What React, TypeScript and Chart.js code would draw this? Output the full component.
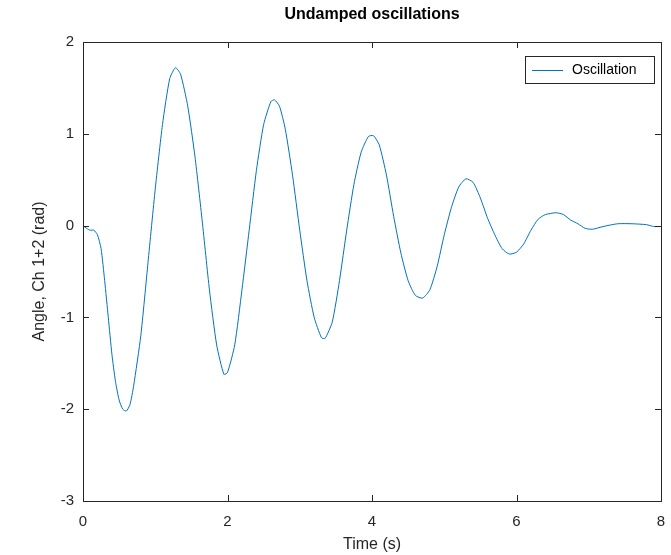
import { useRef, useEffect } from "react"
import { Chart, registerables } from "chart.js"

Chart.register(...registerables)

const times = [0, 0.05, 0.1, 0.15, 0.2, 0.25, 0.3, 0.35, 0.4, 0.45, 0.5, 0.55, 0.6, 0.65, 0.7, 0.8, 0.9, 1.0, 1.1, 1.2, 1.28, 1.35, 1.45, 1.55, 1.65, 1.75, 1.85, 1.95, 2.0, 2.1, 2.2, 2.3, 2.4, 2.5, 2.6, 2.65, 2.72, 2.8, 2.9, 3.0, 3.1, 3.2, 3.3, 3.35, 3.45, 3.55, 3.65, 3.75, 3.85, 3.95, 4.02, 4.1, 4.2, 4.3, 4.4, 4.5, 4.6, 4.7, 4.8, 4.9, 5.0, 5.1, 5.2, 5.3, 5.4, 5.5, 5.6, 5.7, 5.8, 5.9, 6.0, 6.1, 6.2, 6.3, 6.4, 6.55, 6.65, 6.75, 6.85, 6.95, 7.05, 7.2, 7.4, 7.6, 7.8, 7.9, 8.0]
const angle = [0, -0.03, -0.05, -0.05, -0.1, -0.25, -0.6, -1.0, -1.4, -1.7, -1.9, -2.0, -2.02, -1.95, -1.75, -1.2, -0.4, 0.4, 1.1, 1.6, 1.72, 1.65, 1.3, 0.75, 0.05, -0.7, -1.3, -1.62, -1.6, -1.3, -0.7, -0.05, 0.6, 1.1, 1.35, 1.37, 1.3, 1.05, 0.55, -0.05, -0.6, -1.0, -1.22, -1.23, -1.05, -0.6, -0.05, 0.45, 0.8, 0.97, 0.98, 0.88, 0.55, 0.1, -0.3, -0.6, -0.76, -0.79, -0.7, -0.45, -0.1, 0.2, 0.42, 0.51, 0.47, 0.3, 0.08, -0.1, -0.25, -0.31, -0.29, -0.2, -0.05, 0.07, 0.12, 0.14, 0.12, 0.06, 0.02, -0.03, -0.04, -0.01, 0.02, 0.02, 0.01, -0.01, -0.01]

const xTicks = [0, 2, 4, 6, 8]
const yTicks = [-3, -2, -1, 0, 1, 2]
const lineColor = "#0072BD"
const ink = "#262626"
const family = "Helvetica, 'Liberation Sans', Arial, sans-serif"

export default function App() {
  const chartRef = useRef<HTMLCanvasElement>(null)

  useEffect(() => {
    if (!chartRef.current) return
    const ctx = chartRef.current.getContext("2d")
    if (!ctx) return

    const frame = {
      id: "frame",
      afterDraw(chart: any) {
        const { ctx, chartArea: a, scales } = chart
        ctx.save()
        ctx.strokeStyle = ink
        ctx.lineWidth = 1
        ctx.strokeRect(a.left + 0.5, a.top + 0.5, a.right - a.left, a.bottom - a.top)
        ctx.beginPath()
        xTicks.forEach((v) => {
          const x = Math.round(scales.x.getPixelForValue(v)) + 0.5
          ctx.moveTo(x, a.bottom); ctx.lineTo(x, a.bottom - 6)
          ctx.moveTo(x, a.top); ctx.lineTo(x, a.top + 6)
        })
        yTicks.forEach((v) => {
          const y = Math.round(scales.y.getPixelForValue(v)) + 0.5
          ctx.moveTo(a.left, y); ctx.lineTo(a.left + 6, y)
          ctx.moveTo(a.right, y); ctx.lineTo(a.right - 6, y)
        })
        ctx.stroke()
        // title
        ctx.fillStyle = "#000"
        ctx.font = `bold 16px ${family}`
        ctx.textAlign = "center"
        ctx.textBaseline = "middle"
        ctx.fillText("Undamped oscillations", (a.left + a.right) / 2, 15)
        // axis titles
        ctx.fillStyle = ink
        ctx.font = `16px ${family}`
        ctx.fillText("Time (s)", (a.left + a.right) / 2, 545)
        ctx.save()
        ctx.translate(40, (a.top + a.bottom) / 2)
        ctx.rotate(-Math.PI / 2)
        ctx.fillText("Angle, Ch 1+2 (rad)", 0, 0)
        ctx.restore()
        // legend
        ctx.fillStyle = "#fff"
        ctx.fillRect(525, 56, 129, 27)
        ctx.strokeRect(525.5, 56.5, 129, 27)
        ctx.strokeStyle = lineColor
        ctx.beginPath()
        ctx.moveTo(532, 70.5); ctx.lineTo(563, 70.5)
        ctx.stroke()
        ctx.fillStyle = "#000"
        ctx.font = `14px ${family}`
        ctx.textAlign = "left"
        ctx.fillText("Oscillation", 572, 70)
        ctx.restore()
      },
    }

    const font = { family, size: 15 }

    const chart = new Chart(ctx, {
      type: "line",
      data: {
        datasets: [
          {
            label: "Oscillation",
            data: times.map((t, i) => ({ x: t, y: angle[i] })),
            borderColor: lineColor,
            borderWidth: 1,
            pointRadius: 0,
            tension: 0.2,
          },
        ],
      },
      options: {
        animation: false,
        responsive: false,
        layout: { padding: { top: 42, right: 10, left: 0, bottom: 0 } },
        plugins: { legend: { display: false }, title: { display: false }, tooltip: { enabled: false } },
        scales: {
          x: {
            type: "linear",
            min: 0,
            max: 8,
            afterFit: (s: any) => { s.height = 54 },
            afterBuildTicks: (s: any) => { s.ticks = xTicks.map((v) => ({ value: v })) },
            grid: { display: false },
            border: { display: false },
            ticks: { color: ink, font, padding: 4 },
          },
          y: {
            type: "linear",
            min: -3,
            max: 2,
            afterFit: (s: any) => { s.width = 83 },
            afterBuildTicks: (s: any) => { s.ticks = yTicks.map((v) => ({ value: v })) },
            grid: { display: false },
            border: { display: false },
            ticks: { color: ink, font, padding: 1 },
          },
        },
      },
      plugins: [frame],
    })

    return () => chart.destroy()
  }, [])

  return (
    <div style={{ position: "absolute", left: 0, top: 0, width: 671, height: 555, background: "#fff" }}>
      <canvas ref={chartRef} width={671} height={555} style={{ display: "block" }} />
    </div>
  )
}
